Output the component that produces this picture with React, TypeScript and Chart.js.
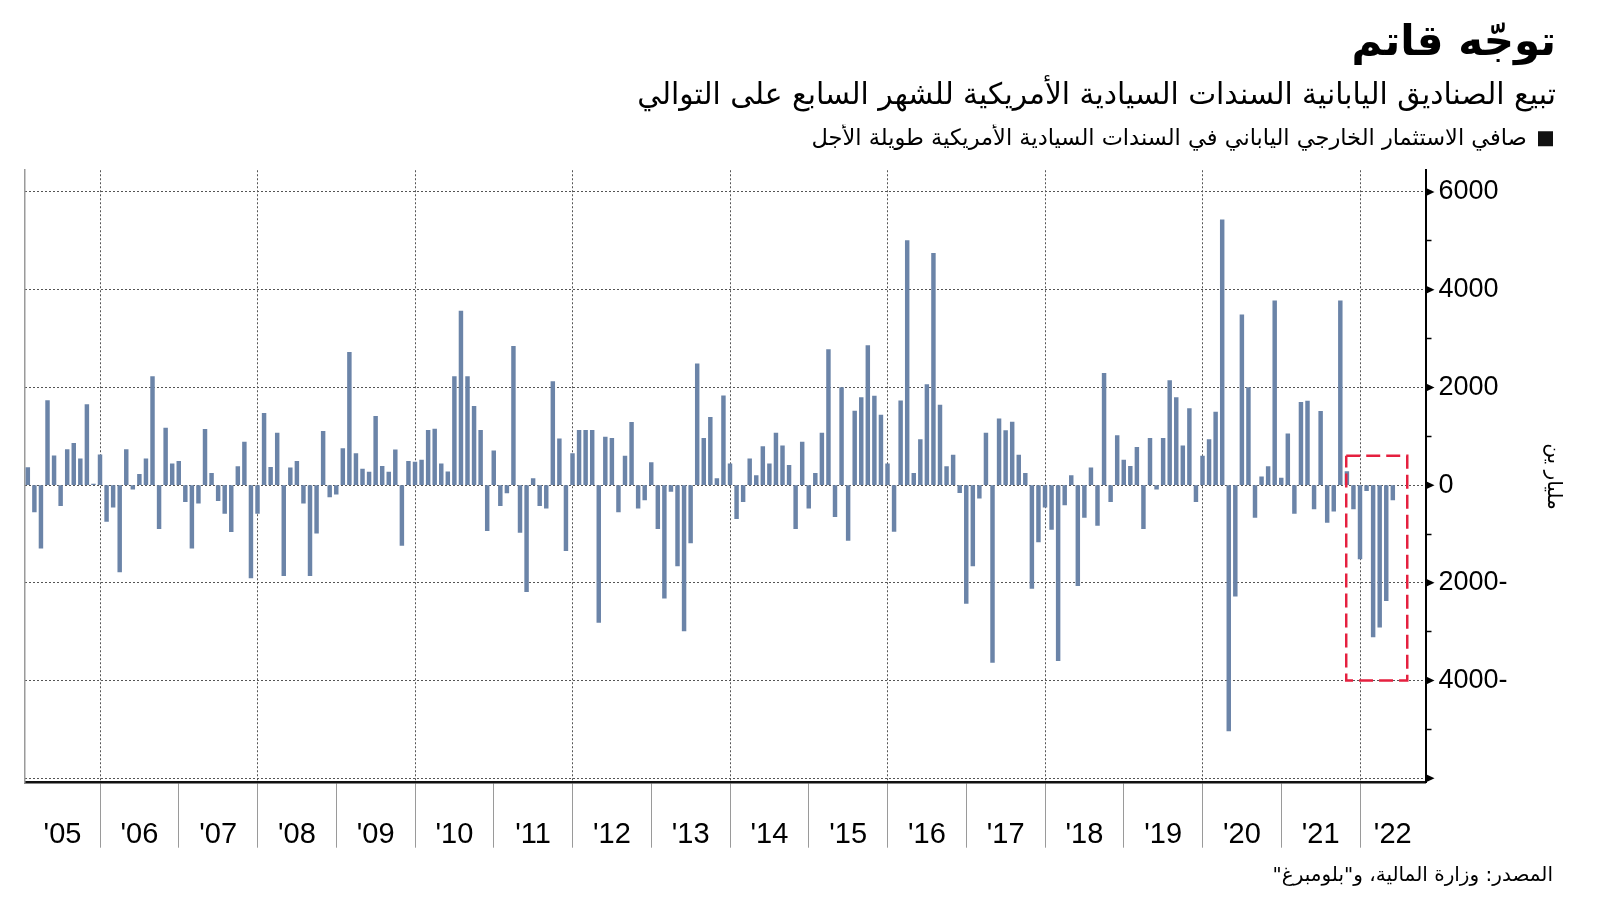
import React, { useEffect, useRef } from "react";
import { Chart, registerables } from "chart.js";

Chart.register(...registerables);

// ---- Data (billion yen, monthly net purchases) ----
const START_YEAR = 2005;
const FIRST_MONTH_OF_2005 = 2; // series begins in February 2005

const v2005 = [360, -550, -1290, 1730, 600, -420, 730, 855, 540, 1650, 20];
const v2006 = [620, -740, -450, -1775, 730, -80, 220, 540, 2220, -890, 1170, 435];
const v2007 = [485, -340, -1290, -370, 1140, 240, -320, -580, -950, 380, 880, -1900];
const v2008 = [-580, 1470, 365, 1065, -1855, 355, 485, -370, -1855, -985, 1100, -240];
const v2009 = [-185, 750, 2720, 645, 330, 265, 1410, 385, 265, 725, -1235, 485];
const v2010 = [470, 515, 1120, 1145, 435, 275, 2220, 3565, 2220, 1615, 1120, -930];
const v2011 = [700, -420, -160, 2840, -970, -2180, 135, -420, -470, 2120, 950, -1340];
const v2012 = [645, 1120, 1120, 1120, -2810, 985, 960, -550, 595, 1285, -470, -305];
const v2013 = [460, -890, -2315, -130, -1655, -2985, -1185, 2485, 960, 1390, 135, 1830];
const v2014 = [435, -685, -340, 540, 195, 790, 435, 1065, 805, 405, -890, 880];
const v2015 = [-470, 240, 1065, 2775, -645, 1995, -1130, 1515, 1790, 2855, 1825, 1435];
const v2016 = [435, -945, 1725, 5005, 240, 930, 2060, 4745, 1640, 380, 615, -155];
const v2017 = [-2420, -1655, -265, 1065, -3630, 1355, 1115, 1290, 615, 240, -2115, -1160];
const v2018 = [-450, -905, -3590, -405, 195, -2060, -660, 355, -825, 2290, -340, 1015];
const v2019 = [515, 385, 775, -890, 960, -80, 960, 2140, 1790, 805, 1565, -340];
const v2020 = [595, 935, 1495, 5430, -5030, -2270, 3485, 1995, -660, 170, 380, 3770];
const v2021 = [145, 1050, -580, 1695, 1720, -485, 1510, -765, -535, 3770, 280, -485];
const v2022 = [-1510, -115, -3105, -2905, -2365, -300];

const yearSeries = [
  v2005, v2006, v2007, v2008, v2009, v2010, v2011, v2012, v2013,
  v2014, v2015, v2016, v2017, v2018, v2019, v2020, v2021, v2022,
];

const yearLabels = [
  "'05", "'06", "'07", "'08", "'09", "'10", "'11", "'12", "'13",
  "'14", "'15", "'16", "'17", "'18", "'19", "'20", "'21", "'22",
];

const yMajorTicks = [6000, 4000, 2000, 0, -2000, -4000, -6000];
const yMinorTicks = [5000, 3000, 1000, -1000, -3000, -5000];

// axis extents (month index, 0 = Jan 2005)
const X_MIN = 0.57;
const X_MAX = 213.98;
const Y_MIN = -6090;
const Y_MAX = 6445;

// highlighted period (Nov 2021 – Jun 2022)
const highlightX = [201.9, 211.2];
const highlightY = [600, -4000];

const TITLE = "توجّه قاتم";
const SUBTITLE = "تبيع الصناديق اليابانية السندات السيادية الأمريكية للشهر السابع على التوالي";
const SERIES_LABEL = "صافي الاستثمار الخارجي الياباني في السندات السيادية الأمريكية طويلة الأجل";
const Y_TITLE = "مليار ين";
const SOURCE = "المصدر: وزارة المالية، و\"بلومبرغ\"";

const BAR_COLOR = "#6b84a8";
const GRID_COLOR = "#555555";

// ---- derived structures ----
const barPoints: { x: number; y: number }[] = [];
yearSeries.forEach((arr, yi) => {
  const offset = yi === 0 ? FIRST_MONTH_OF_2005 - 1 : 0;
  arr.forEach((v, k) => barPoints.push({ x: yi * 12 + offset + k, y: v }));
});

type XTick = { value: number; label: string; kind: "year" | "label"; year: number };
const xTickDefs: XTick[] = [];
yearLabels.forEach((lab, yi) => {
  const jan = yi * 12;
  const start = Math.max(jan, X_MIN);
  const end = Math.min(jan + 12, X_MAX);
  if (yi > 0) xTickDefs.push({ value: jan, label: "", kind: "year", year: START_YEAR + yi });
  xTickDefs.push({ value: (start + end) / 2, label: lab, kind: "label", year: START_YEAR + yi });
});

const rectPoints = [
  { x: highlightX[0], y: highlightY[0] },
  { x: highlightX[1], y: highlightY[0] },
  { x: highlightX[1], y: highlightY[1] },
  { x: highlightX[0], y: highlightY[1] },
  { x: highlightX[0], y: highlightY[0] },
];

const axisArrows = {
  id: "axisArrows",
  afterDraw(chart: any) {
    const ys = chart.scales.y;
    const ctx = chart.ctx;
    ctx.save();
    ctx.fillStyle = "#000";
    yMajorTicks.forEach((v) => {
      const py = ys.getPixelForValue(v);
      const px = ys.left;
      ctx.beginPath();
      ctx.moveTo(px - 0.5, py - 4.5);
      ctx.lineTo(px + 9, py);
      ctx.lineTo(px - 0.5, py + 4.5);
      ctx.closePath();
      ctx.fill();
    });
    ctx.restore();
  },
};

export default function App() {
  const canvasRef = useRef<HTMLCanvasElement | null>(null);

  useEffect(() => {
    const canvas = canvasRef.current;
    if (!canvas) return;
    const chart = new Chart(canvas, {
      type: "bar",
      data: {
        datasets: [
          {
            type: "bar",
            label: SERIES_LABEL,
            data: barPoints as any,
            backgroundColor: BAR_COLOR,
            borderWidth: 0,
            barThickness: 3.8,
            xAxisID: "x",
            yAxisID: "y",
            order: 2,
          } as any,
          {
            type: "line",
            label: "highlight",
            data: rectPoints as any,
            borderColor: "#e5203f",
            borderWidth: 2.5,
            borderDash: [14, 6],
            pointRadius: 0,
            fill: false,
            tension: 0,
            xAxisID: "x",
            yAxisID: "y",
            order: 1,
          } as any,
        ],
      },
      options: {
        responsive: false,
        animation: false,
        devicePixelRatio: 1,
        events: [],
        layout: { padding: { left: 25, right: 44, top: 0, bottom: 0 } },
        plugins: {
          tooltip: { enabled: false },
          title: {
            display: true,
            text: TITLE,
            align: "end",
            color: "#000",
            font: { family: "'DejaVu Sans'", size: 42, weight: "bold", lineHeight: 1.2 },
            padding: { top: 19, bottom: 0 },
          },
          subtitle: {
            display: true,
            text: SUBTITLE,
            align: "end",
            color: "#000",
            font: { family: "'DejaVu Sans'", size: 29.7, lineHeight: 1.2 },
            padding: { top: 9, bottom: 10.4 },
          },
          legend: {
            display: true,
            position: "top",
            align: "start",
            rtl: true,
            labels: {
              boxWidth: 15,
              boxHeight: 15,
              padding: 3,
              color: "#000",
              font: { family: "'DejaVu Sans'", size: 22.5 },
              generateLabels: () => [
                {
                  text: SERIES_LABEL,
                  fillStyle: "#111",
                  strokeStyle: "#111",
                  lineWidth: 0,
                  hidden: false,
                  datasetIndex: 0,
                } as any,
              ],
            },
          },
        },
        scales: {
          x: {
            type: "linear",
            position: "bottom",
            min: X_MIN,
            max: X_MAX,
            bounds: "data",
            offset: false,
            afterBuildTicks: (scale: any) => {
              scale.ticks = xTickDefs.map((t) => ({ value: t.value }));
            },
            afterFit: (scale: any) => {
              scale.height = 118.3;
            },
            ticks: {
              autoSkip: false,
              maxRotation: 0,
              minRotation: 0,
              padding: -30,
              color: "#000",
              font: { family: "'Liberation Sans Narrow', 'Liberation Sans', sans-serif", size: 29 },
              callback: (_v: any, i: number) => (xTickDefs[i] ? xTickDefs[i].label : ""),
            },
            grid: {
              offset: false,
              drawOnChartArea: true,
              drawTicks: true,
              tickLength: 65,
              lineWidth: 1,
              tickWidth: 1,
              color: (ctx: any) => {
                const d = xTickDefs[ctx.index];
                if (!d || d.kind !== "year") return "rgba(0,0,0,0)";
                return (d.year - 2006) % 2 === 0 ? GRID_COLOR : "rgba(0,0,0,0)";
              },
              tickColor: (ctx: any) => {
                const d = xTickDefs[ctx.index];
                return d && d.kind === "year" ? "#9a9a9a" : "rgba(0,0,0,0)";
              },
            },
            border: { display: true, color: "#111", width: 2.5, dash: [2, 2] },
          },
          xTop: {
            type: "linear",
            position: "top",
            display: true,
            afterFit: (scale: any) => {
              scale.height = 10.3;
            },
            ticks: { display: false },
            grid: { display: false, drawOnChartArea: false, drawTicks: false },
            border: { display: false },
          },
          yl: {
            type: "linear",
            position: "left",
            display: true,
            afterFit: (scale: any) => {
              scale.width = 0;
            },
            ticks: { display: false },
            grid: { display: true, drawOnChartArea: false, drawTicks: false, color: "rgba(0,0,0,0)" },
            border: { display: true, color: "#9a9a9a", width: 1.5 },
          },
          y: {
            type: "linear",
            position: "right",
            min: Y_MIN,
            max: Y_MAX,
            bounds: "data",
            afterBuildTicks: (scale: any) => {
              scale.ticks = [...yMajorTicks, ...yMinorTicks]
                .sort((a, b) => a - b)
                .map((v) => ({ value: v }));
            },
            afterFit: (scale: any) => {
              scale.width = 130.5;
            },
            ticks: {
              padding: 7,
              color: "#000",
              font: { family: "'Liberation Sans', sans-serif", size: 27 },
              callback: (v: any) => {
                const n = Number(v);
                if (n % 2000 !== 0 || n === -6000) return "";
                return n < 0 ? `${-n}-` : `${n}`;
              },
            },
            grid: {
              drawOnChartArea: true,
              drawTicks: true,
              tickLength: 6,
              lineWidth: 1,
              tickWidth: 1.5,
              tickColor: "#000",
              color: (ctx: any) => {
                const v = ctx.tick ? ctx.tick.value : NaN;
                return v % 2000 === 0 ? GRID_COLOR : "rgba(0,0,0,0)";
              },
            },
            border: { display: true, color: "#000", width: 2, dash: [2, 2] },
            title: {
              display: true,
              text: Y_TITLE,
              color: "#000",
              font: { family: "'DejaVu Sans'", size: 20, lineHeight: 1.2 },
              padding: { top: -9, bottom: 0 },
            },
          },
        },
      } as any,
      plugins: [axisArrows],
    });
    return () => chart.destroy();
  }, []);

  return (
    <div
      style={{
        position: "absolute",
        left: 0,
        top: 0,
        width: 1600,
        height: 901,
        background: "#fff",
        overflow: "hidden",
      }}
    >
      <canvas ref={canvasRef} width={1600} height={901} style={{ display: "block", width: 1600, height: 901 }} />
      <div
        dir="rtl"
        style={{
          position: "absolute",
          right: 47,
          top: 862,
          fontFamily: "'DejaVu Sans', sans-serif",
          fontSize: 20,
          lineHeight: "24px",
          color: "#000",
          whiteSpace: "nowrap",
        }}
      >
        {SOURCE}
      </div>
    </div>
  );
}
